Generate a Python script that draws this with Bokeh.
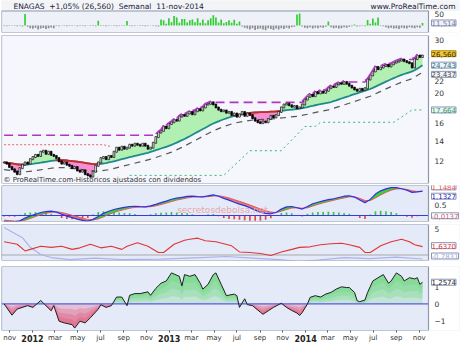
import datetime as dt
from bokeh.plotting import figure
from bokeh.layouts import column
from bokeh.models import FixedTicker, Label, Range1d, BasicTickFormatter, LinearAxis
from bokeh.embed import file_html
from bokeh.resources import INLINE

# ---------------- data ----------------
START = "2011-10-17"          # first weekly bar
X_FROM, X_TO = "2011-10-10", "2014-11-26"

close = [11.9,11.8,11.5,11.3,11.1,10.9,11.4,11.7,11.9,11.8,
         12.2,12.4,12.6,12.5,12.9,13.0,12.7,12.9,12.6,12.5,
         12.3,12.0,11.8,11.9,11.7,11.6,11.4,11.5,11.2,11.1,
         11.2,10.9,10.8,10.7,11.1,11.6,11.9,12.3,12.4,12.2,
         12.5,12.4,12.9,13.3,13.1,13.4,13.2,13.3,13.6,13.5,
         13.7,13.6,13.5,13.7,13.5,13.2,13.3,13.8,14.4,14.9,
         15.1,15.6,15.4,15.9,16.1,16.4,16.3,16.8,17.0,16.9,
         17.2,17.4,17.1,17.5,17.8,17.6,18.0,18.4,18.5,18.7,
         18.4,18.0,17.7,17.5,17.6,17.3,17.4,17.0,17.2,16.8,
         17.1,17.4,16.9,17.2,17.0,16.6,16.3,16.1,16.0,16.2,
         16.1,16.5,16.9,16.7,17.0,17.4,18.0,18.4,18.5,18.3,
         18.1,18.2,17.9,18.0,18.4,19.1,19.5,19.8,19.6,20.2,
         20.0,20.3,20.1,20.4,20.8,21.1,21.0,21.4,21.6,21.5,
         21.8,21.5,21.2,20.9,20.6,20.4,20.7,20.5,20.8,22.2,
         22.9,23.6,24.4,24.0,24.3,24.6,24.8,24.5,24.9,25.2,
         25.4,25.6,25.8,25.5,25.3,25.1,24.3,25.9,26.6,26.3,
         26.56]

ma = [11.90,11.88,11.85,11.82,11.78,11.74,11.72,11.71,11.71,11.72,
      11.75,11.78,11.82,11.85,11.88,11.92,11.96,12.00,12.04,12.07,
      12.10,12.11,12.11,12.10,12.08,12.05,12.03,12.00,11.97,11.94,
      11.90,11.87,11.83,11.79,11.76,11.75,11.76,11.78,11.81,11.85,
      11.90,11.95,12.01,12.07,12.13,12.20,12.26,12.32,12.38,12.44,
      12.50,12.56,12.62,12.68,12.74,12.80,12.88,12.96,13.05,13.13,
      13.22,13.30,13.39,13.48,13.58,13.70,13.82,13.95,14.08,14.20,
      14.35,14.50,14.66,14.82,14.98,15.14,15.30,15.46,15.63,15.80,
      15.95,16.09,16.22,16.35,16.47,16.58,16.69,16.80,16.88,16.95,
      17.02,17.09,17.15,17.22,17.28,17.31,17.33,17.35,17.37,17.38,
      17.39,17.41,17.43,17.45,17.47,17.50,17.55,17.59,17.63,17.67,
      17.71,17.75,17.79,17.83,17.90,17.98,18.06,18.15,18.22,18.30,
      18.37,18.44,18.51,18.58,18.66,18.75,18.87,18.99,19.12,19.25,
      19.38,19.50,19.62,19.78,19.90,20.02,20.15,20.28,20.42,20.55,
      20.68,20.86,21.05,21.25,21.45,21.65,21.85,22.05,22.25,22.45,
      22.63,22.81,22.98,23.15,23.30,23.45,23.60,23.82,24.10,24.42,
      24.743]

env_step = 4
env = [11.27,11.16,11.09,11.19,11.33,11.46,11.44,11.34,11.23,11.13,
       11.27,11.49,11.72,11.95,12.20,12.52,12.86,13.33,13.89,14.49,
       15.10,15.60,15.99,16.24,16.41,16.47,16.54,16.70,16.84,17.10,
       17.40,17.67,18.11,18.58,19.08,19.58,20.31,21.07,21.76,22.35,
       23.437]

prior_high = 14.6
sup_wk = [48, 84, 94, 106, 115, 119, 121, 149, 156, 160]
sup_val = [10.8, 10.8, 13.0, 13.0, 15.6, 15.6, 16.1, 16.1, 17.664, 17.664]
stop_wk = [0, 38, 41]
stop_val = [13.6, 13.6, 13.4]

vol = [-2,-3,-2,-1,-2,-3,-2,-4,52,-6,
       -12,-15,-10,-18,-14,-11,-16,-13,-9,-12,
       -2,-3,-1,-2,-3,-2,-2,-1,-3,-2,
       -2,-3,-1,-2,-2,-3,22,-2,-2,-3,
       -2,-1,-2,-3,-2,-2,-2,20,-2,-3,
       -2,-1,-2,-2,-3,-2,-1,-2,-3,-4,
       27,24,8,33,15,43,36,12,30,30,
       14,24,27,15,33,12,27,10,24,33,
       47,36,14,27,10,16,24,12,26,8,
       18,-4,-10,-14,-18,-12,-20,-16,-14,-18,
       -22,-12,-16,-20,-14,-18,-12,-16,-10,-14,
       -8,-6,50,54,-4,-10,-12,-8,-14,-10,
       -12,-8,-10,-6,18,-8,-12,-10,-14,-12,
       -8,-10,-6,-3,5,-4,-3,-2,-3,25,
       8,32,14,36,2,-3,-8,-12,-10,-14,
       -12,-16,-10,-12,-14,-8,-10,-12,-8,-10,
       11.514]

macd_step = 2
macd = [-0.27,-0.28,-0.30,-0.25,-0.12,-0.02,0.06,0.14,0.18,0.20,
        0.16,0.06,-0.03,-0.10,-0.17,-0.23,-0.27,-0.18,-0.05,0.10,
        0.20,0.28,0.33,0.38,0.42,0.43,0.41,0.40,0.45,0.52,
        0.60,0.67,0.76,0.81,0.85,0.89,0.90,0.88,0.87,0.92,
        0.96,0.90,0.80,0.72,0.62,0.53,0.46,0.36,0.25,0.16,
        0.10,0.08,0.14,0.30,0.40,0.42,0.36,0.30,0.42,0.55,
        0.62,0.68,0.74,0.78,0.84,0.90,0.92,0.86,0.72,0.60,
        0.75,1.00,1.15,1.24,1.30,1.30,1.25,1.18,1.08,1.10,
        1.1327]
signal = [-0.22,-0.24,-0.26,-0.27,-0.22,-0.14,-0.05,0.04,0.10,0.15,
          0.17,0.14,0.08,0.01,-0.06,-0.13,-0.19,-0.21,-0.16,-0.06,
          0.05,0.14,0.22,0.28,0.34,0.38,0.40,0.40,0.41,0.45,
          0.51,0.58,0.65,0.72,0.77,0.82,0.86,0.87,0.87,0.88,
          0.91,0.92,0.88,0.82,0.74,0.66,0.58,0.49,0.40,0.30,
          0.22,0.16,0.14,0.20,0.28,0.35,0.36,0.34,0.36,0.44,
          0.52,0.59,0.65,0.71,0.77,0.82,0.87,0.87,0.80,0.70,
          0.70,0.82,0.96,1.08,1.18,1.24,1.25,1.22,1.15,1.12,
          1.1484]
hist = [-0.05,-0.05,-0.06,0.03,0.12,0.14,0.16,0.15,0.12,0.08,
        -0.02,-0.12,-0.16,-0.17,-0.17,-0.15,-0.12,0.05,0.16,0.20,
        0.20,0.18,0.14,0.12,0.10,0.07,0.02,0.01,0.06,0.10,
        0.13,0.14,0.16,0.14,0.12,0.10,0.06,0.02,0.00,0.06,
        0.07,-0.04,-0.12,-0.16,-0.18,-0.20,-0.22,-0.24,-0.25,-0.24,
        -0.20,-0.13,0.00,0.12,0.14,0.10,0.00,-0.05,0.08,0.14,
        0.16,0.16,0.17,0.16,0.14,0.12,0.08,-0.02,-0.12,-0.16,
        0.05,0.20,0.22,0.20,0.16,0.10,0.00,-0.06,-0.10,-0.04,
        -0.0137]

ind_red_wk = [0,5,8,10,14,18,22,26,29,33,37,41,45,47,51,55,59,61,65,69,
              71,74,77,81,87,90,94,98,102,106,110,113,117,121,125,129,132,136,138,140,
              144,148,152,155,157,160]
ind_red = [2.6,2.1,0.8,1.1,1.7,1.5,1.7,1.1,1.4,2.1,1.4,1.7,1.1,1.7,2.4,1.7,0.5,0.5,2.1,2.9,
           3.1,3.3,2.8,2.6,1.8,0.6,0.5,0.3,-0.1,0.6,1.1,1.5,1.6,2.0,2.2,2.3,2.0,1.5,0.5,0.5,
           1.8,2.6,3.1,2.6,2.0,1.637]
ind_blue_wk = [0,7,10,14,18,25,35,45,60,75,85,95,105,113,120,130,140,150,160]
ind_blue = [5.4,3.4,1.5,0.1,-0.5,-0.9,-0.6,-0.9,-0.8,-0.5,-0.3,-0.6,-0.9,-1.3,-1.0,-0.5,-0.7,-0.4,-0.7831]

osc_wk = [0,3,5,9,11,14,16,18,19,21,23,26,27,29,31,33,36,37,39,41,
          43,45,47,48,50,52,55,56,58,60,62,64,67,68,69,71,73,75,76,78,
          80,81,83,85,88,89,90,92,93,95,98,99,101,103,106,108,110,112,113,114,
          116,117,119,121,123,125,127,129,131,132,134,135,136,138,139,141,143,145,147,148,
          150,152,153,155,157,158,159,160]
osc = [0,-0.65,-0.3,-0.1,-0.2,0.2,-0.1,-0.4,-0.1,-1.0,-1.1,-1.2,-1.4,-1.0,-1.1,-0.8,-0.3,-0.05,-0.2,-0.1,
       0.4,0.4,-0.1,0.5,0.6,0.6,0.7,0.5,0.9,1.2,1.33,1.8,1.6,1.05,1.7,1.6,1.7,1.2,0.86,1.14,
       1.7,1.8,1.14,0.48,0.57,0.48,-0.2,0.3,-0.04,-0.1,-0.48,-0.6,-0.4,-0.2,0.04,-0.2,-0.38,-0.53,-0.67,-0.5,
       0,0.38,0.48,0.4,0.57,0.67,0.86,0.99,0.95,0.95,0.67,0.19,0.13,0.23,0.67,1.33,1.52,1.7,1.2,1.33,
       1.8,1.6,1.33,1.52,1.45,1.52,1.14,1.2574]

tick_dates = ["2011-11-01","2012-01-01","2012-03-01","2012-05-01","2012-07-01","2012-09-01",
              "2012-11-01","2013-01-01","2013-03-01","2013-05-01","2013-07-01","2013-09-01",
              "2013-11-01","2014-01-01","2014-03-01","2014-05-01","2014-07-01","2014-09-01",
              "2014-11-01"]
tick_labels = ["nov","2012","mar","may","jul","sep","nov","2013","mar","may","jul","sep",
               "nov","2014","mar","may","jul","sep","nov"]

NB = "\u00a0\u00a0"
title_text = "ENAGAS" + NB + "+1,05% (26,560)" + NB + "Semanal" + NB + "11-nov-2014"
site_text = "www.ProRealTime.com"
copy_text = "© ProRealTime.com-Históricos ajustados con dividendos"

# ---------------- helpers ----------------
def dnum(s):
    y, m, d = (int(t) for t in s.split("-"))
    return (dt.date(y, m, d) - dt.date(*(int(t) for t in START.split("-")))).days

def wk(i):
    return 7 * i

FONT = "DejaVu Sans"
XBEG = dnum(X_FROM)
XEND = dnum(X_TO)
XMAX = XEND + 83          # space for the price scale column
xr = Range1d(XBEG, XMAX)
n = len(close)
wx = [wk(i) for i in range(n)]
EDGE = "#8e97ab"


def make(h, yr, bg, top, bottom, ytype="linear", xaxis=False, ylo=None, yhi=None):
    p = figure(width=460, height=h, x_range=xr, y_range=yr, y_axis_type=ytype,
               y_axis_location="right", x_axis_location="below" if xaxis else None,
               output_backend="svg", toolbar_location=None,
               min_border_left=1, min_border_right=1, min_border_top=top,
               min_border_bottom=bottom, background_fill_color=bg,
               border_fill_color="#ffffff", outline_line_color=None)
    p.grid.visible = False
    ax = p.yaxis[0]
    ax.axis_line_color = None
    ax.major_tick_out = 0
    ax.major_tick_in = 0
    ax.major_tick_line_color = None
    ax.minor_tick_line_color = None
    ax.major_label_text_font = FONT
    ax.major_label_text_font_size = "7.5px"
    ax.major_label_text_color = "#333333"
    ax.major_label_standoff = -25
    ax.formatter = BasicTickFormatter()
    lo = yr.start if ylo is None else ylo
    hi = yr.end if yhi is None else yhi
    p.quad(left=[XEND], right=[XMAX], bottom=[yr.start], top=[yr.end],
           fill_color="#ffffff", line_color=None)
    return p, lo, hi


def border(p, lo, hi):
    p.quad(left=[XBEG], right=[XEND], bottom=[lo], top=[hi], fill_color=None,
           line_color=EDGE, line_width=1.2)


def split(xs, a, b):
    X, A, B = [], [], []
    for k in range(len(xs)):
        if k > 0:
            d0 = a[k - 1] - b[k - 1]
            d1 = a[k] - b[k]
            if d0 * d1 < 0:
                t = d0 / (d0 - d1)
                xc = xs[k - 1] + t * (xs[k] - xs[k - 1])
                yc = b[k - 1] + t * (b[k] - b[k - 1])
                X.append(xc); A.append(yc); B.append(yc)
        X.append(xs[k]); A.append(a[k]); B.append(b[k])
    hi = [max(p, q) for p, q in zip(A, B)]
    lo = [min(p, q) for p, q in zip(A, B)]
    return X, B, hi, lo


def vlabel(p, y, txt, color, bg="#ffffff", bd="#8a96b4", yoff=0):
    p.add_layout(Label(x=XEND, y=y, text=txt, x_offset=3, y_offset=yoff,
                       text_font=FONT, text_font_size="7px", text_color=color,
                       text_align="left", text_baseline="middle",
                       background_fill_color=bg, border_line_color=bd))

# ---------------- volume / header ----------------
pv, vlo, vhi = make(34, Range1d(-31.8, 113.6), "#eef1f8", 0, 2, yhi=65.9)
pv.quad(left=[XBEG], right=[XMAX], bottom=[65.9], top=[113.6], fill_color="#f3f4f6", line_color=None)
pv.yaxis.ticker = FixedTicker(ticks=[50])
vcol = ["#33cc33" if v > 0 else "#8c8c8c" for v in vol]
pv.vbar(x=wx, width=4.5, top=vol, bottom=0, fill_color=vcol, line_color=None)
border(pv, vlo, vhi)
pv.add_layout(Label(x=12, y=26, x_units="screen", y_units="screen", text=title_text,
                    text_font=FONT, text_font_size="7.5px", text_color="#1a1a40",
                    text_baseline="middle"))
pv.add_layout(Label(x=454, y=26, x_units="screen", y_units="screen", text=site_text,
                    text_font=FONT, text_font_size="7.5px", text_color="#1a1a40",
                    text_baseline="middle", text_align="right"))
vlabel(pv, vol[-1], "11,514", "#7080a0", bg="#eef1f8")

# ---------------- main price ----------------
pm, mlo, mhi = make(150, Range1d(10.16, 30.92), "#f5f7fd", 1, 1, ytype="log")
pm.yaxis.ticker = FixedTicker(ticks=[12, 14, 16, 20, 22, 30])
X, B, hi, lo = split(wx, close, ma)
pm.varea(x=X, y1=B, y2=hi, fill_color="#b2efb2")
pm.varea(x=X, y1=lo, y2=B, fill_color="#f58fd2")
pm.line([wk(i * env_step) for i in range(len(env))], env, line_color="#555555",
        line_width=1.2, line_dash="6 5")
pm.line([wk(i) for i in sup_wk], sup_val, line_color="#3cb371", line_width=1, line_dash="2 3")
pm.line([wk(i) for i in stop_wk], stop_val, line_color="#f06060", line_width=1, line_dash="2 2")
runmax = []
m = prior_high
for c in close:
    m = max(m, c)
    runmax.append(m)
pm.line(wx, runmax, line_color="#b035c0", line_width=1.6, line_dash="9 5")
pm.line(wx, ma, line_color="#1f8a8a", line_width=1.8)
rx, ry = [], []
for k in range(1, n):
    if close[k] < ma[k] or close[k - 1] < ma[k - 1]:
        rx.append([wx[k - 1], wx[k]]); ry.append([ma[k - 1], ma[k]])
pm.multi_line(rx, ry, line_color="#e02020", line_width=1.8)
opn = [close[0]] + close[:-1]
top = [max(o, c) * 1.004 for o, c in zip(opn, close)]
bot = [min(o, c) / 1.004 for o, c in zip(opn, close)]
fc = ["#ffffff" if c >= o else "#000000" for o, c in zip(opn, close)]
pm.vbar(x=wx, width=4.5, top=top, bottom=bot, fill_color=fc, line_color="#000000", line_width=0.7)
sx, sy = [], []
for k in range(1, n):
    if runmax[k] > runmax[k - 1]:
        sx.append([wx[k - 1], wx[k]]); sy.append([runmax[k - 1] * 1.01, runmax[k] * 1.01])
pm.multi_line(sx, sy, line_color="#b035c0", line_width=1.6)
border(pm, mlo, mhi)
pm.add_layout(Label(x=2, y=4, x_units="screen", y_units="screen", text=copy_text,
                    text_font=FONT, text_font_size="7px", text_color="#333333",
                    text_baseline="middle"))
vlabel(pm, close[-1], "26,560", "#3a2a00", bg="#f2c830", bd="#b09020", yoff=2)
vlabel(pm, ma[-1], "24,743", "#1f6f7a", bg="#eef3fa")
vlabel(pm, env[-1], "23,437", "#444444", bg="#eef3fa", yoff=-2)
vlabel(pm, sup_val[-1], "17,664", "#2e9a5a", bg="#eef3fa")

# ---------------- MACD ----------------
pmac, clo, chi = make(39, Range1d(-0.28, 1.40), "#e4eaf8", 1, 2)
pmac.yaxis.ticker = FixedTicker(ticks=[0.5])
mx = [wk(i * macd_step) for i in range(len(macd))]
pmac.add_layout(Label(x=221, y=12, x_units="screen", y_units="screen", text="secretosdebolsa.net",
                      text_font=FONT, text_font_size="9px", text_color="#e9a8a8",
                      text_align="center", text_baseline="middle"))
hcol = ["#33cc33" if h >= 0 else "#e04848" for h in hist]
pmac.vbar(x=mx, width=4.5, top=hist, bottom=0, fill_color=hcol, line_color=None)
X, B, hi, lo = split(mx, macd, signal)
pmac.varea(x=X, y1=B, y2=hi, fill_color="#33d633")
pmac.varea(x=X, y1=lo, y2=B, fill_color="#e07a7a")
pmac.line([XBEG, XEND], [0, 0], line_color="#3a3ae0", line_width=1)
pmac.line(mx, signal, line_color="#e05a5a", line_width=1)
pmac.line(mx, macd, line_color="#3030e0", line_width=1.2)
border(pmac, clo, chi)
vlabel(pmac, signal[-1], "1,1484", "#e05050", yoff=4)
vlabel(pmac, macd[-1], "1,1327", "#2020c0", yoff=-5)
vlabel(pmac, hist[-1], "-0,0137", "#c06070")

# ---------------- second indicator ----------------
pind, ilo, ihi = make(39, Range1d(-1.08, 5.98), "#e4eaf8", 1, 2)
pind.yaxis.ticker = FixedTicker(ticks=[5])
pind.line([XBEG, XEND], [0, 0], line_color="#a8a8a8", line_width=1)
pind.line([wk(i) for i in ind_blue_wk], ind_blue, line_color="#aab2f0", line_width=1.2)
pind.line([wk(i) for i in ind_red_wk], ind_red, line_color="#e03535", line_width=1.1)
border(pind, ilo, ihi)
vlabel(pind, ind_red[-1], "1,6370", "#e03535", yoff=1)
vlabel(pind, ind_blue[-1], "-0,7831", "#a0a8d8", yoff=3)

# ---------------- oscillator ----------------
po, olo, ohi = make(82, Range1d(-1.54, 2.17), "#e4eaf8", 4, 12, xaxis=True)
po.yaxis.ticker = FixedTicker(ticks=[-1, 0, 1])
ox = [wk(i) for i in osc_wk]
zero = [0.0] * len(osc)
X, B, hi, lo = split(ox, osc, zero)
for k in (0.0, 0.25, 0.5, 0.75):
    po.varea(x=X, y1=[h * k for h in hi], y2=hi, fill_color="#4cd05e", fill_alpha=0.22)
    po.varea(x=X, y1=lo, y2=[l * k for l in lo], fill_color="#e0305a", fill_alpha=0.22)
po.line([XBEG, XEND], [0, 0], line_color="#5a5ae6", line_width=1.2)
po.line(ox, osc, line_color="#222222", line_width=1)
border(po, olo, ohi)
vlabel(po, osc[-1], "1,2574", "#222222")

tdays = [dnum(s) for s in tick_dates]
xa = po.xaxis[0]
xa.ticker = FixedTicker(ticks=tdays)
xa.major_label_overrides = {d: ("" if lab.isdigit() else lab) for d, lab in zip(tdays, tick_labels)}
xa.axis_line_color = None
xa.major_tick_out = 2
xa.major_tick_in = 0
xa.major_tick_line_color = "#555555"
xa.minor_tick_line_color = None
xa.major_label_standoff = 1
xa.major_label_text_font = FONT
xa.major_label_text_font_size = "7px"
xa.major_label_text_color = "#333333"
ydays = [d for d, lab in zip(tdays, tick_labels) if lab.isdigit()]
yax = LinearAxis(ticker=FixedTicker(ticks=ydays),
                 major_label_overrides={d: lab for d, lab in zip(tdays, tick_labels) if lab.isdigit()},
                 axis_line_color=None, major_tick_line_color=None, minor_tick_line_color=None,
                 major_tick_out=0, major_tick_in=0, major_label_standoff=-10,
                 major_label_text_font=FONT, major_label_text_font_size="8px",
                 major_label_text_font_style="bold", major_label_text_color="#222222")
po.add_layout(yax, "below")

page = column(pv, pm, pmac, pind, po, spacing=0)
open("out.html", "w").write(file_html(page, INLINE))
